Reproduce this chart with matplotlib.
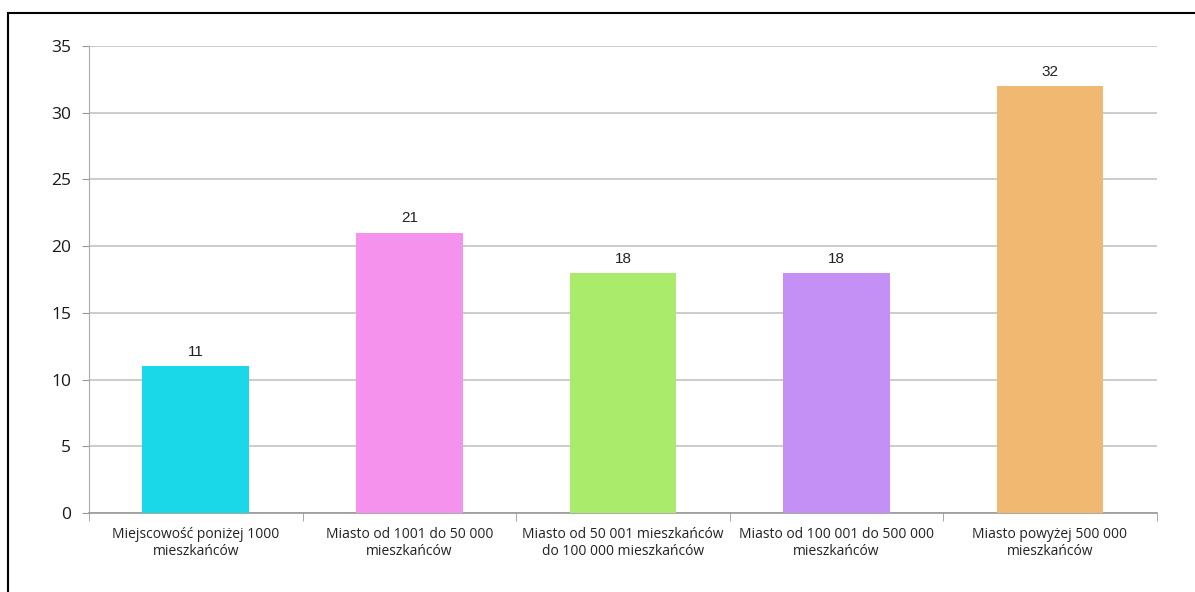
import matplotlib.pyplot as plt
from matplotlib.patches import Rectangle
from matplotlib.ticker import FixedLocator, NullFormatter

# Dane do wykresu
kategorie = ['Miejscowość poniżej 1000\nmieszkańców',
             'Miasto od 1001 do 50 000\nmieszkańców',
             'Miasto od 50 001 mieszkańców\ndo 100 000 mieszkańców',
             'Miasto od 100 001 do 500 000\nmieszkańców',
             'Miasto powyżej 500 000\nmieszkańców']
wartosci = [11, 21, 18, 18, 32]
kolory = ['#1BD8E8', '#F592EE', '#ABEB6C', '#C590F5', '#F0B870']
y_ticks = [0, 5, 10, 15, 20, 25, 30, 35]

fig = plt.figure(figsize=(11.95, 5.92), dpi=100)
ax = fig.add_axes([0.0745, 0.1334, 0.8935, 0.7889])

# Ramka wokół wykresu
fig.patches.append(Rectangle((8 / 1195, -0.1), 1.2, 1 - 13 / 592 + 0.1,
                             transform=fig.transFigure, fill=False,
                             edgecolor='black', linewidth=1.5))

x = list(range(len(kategorie)))
ax.bar(x, wartosci, width=0.5, color=kolory, zorder=3)

for xi, v in zip(x, wartosci):
    ax.text(xi, v + 0.55, str(v), ha='center', va='bottom', fontsize=11,
            family='Liberation Sans', color='#222222', zorder=4)

ax.set_xlim(-0.5, len(kategorie) - 0.5)
ax.set_ylim(0, 35)
ax.set_yticks(y_ticks)
ax.yaxis.grid(True, color='#C4C4C4', linewidth=1.2, zorder=0)
ax.set_axisbelow(True)

ax.set_xticks(x)
ax.set_xticklabels(kategorie, fontsize=10, family='Open Sans', color='#222222')
ax.tick_params(axis='x', length=0, pad=10)
ax.xaxis.set_minor_locator(FixedLocator([i - 0.5 for i in range(len(kategorie) + 1)]))
ax.xaxis.set_minor_formatter(NullFormatter())
ax.tick_params(axis='x', which='minor', length=6, color='#999999', direction='out')

ax.tick_params(axis='y', labelsize=12.5, length=5, color='#999999', pad=8)
for lbl in ax.get_yticklabels():
    lbl.set_family('Open Sans')
    lbl.set_color('#1A1A1A')

for s in ['top', 'right']:
    ax.spines[s].set_visible(False)
ax.spines['left'].set_color('#AAAAAA')
ax.spines['bottom'].set_color('#999999')
ax.spines['bottom'].set_linewidth(1.2)

fig.savefig('out.png', dpi=100)
